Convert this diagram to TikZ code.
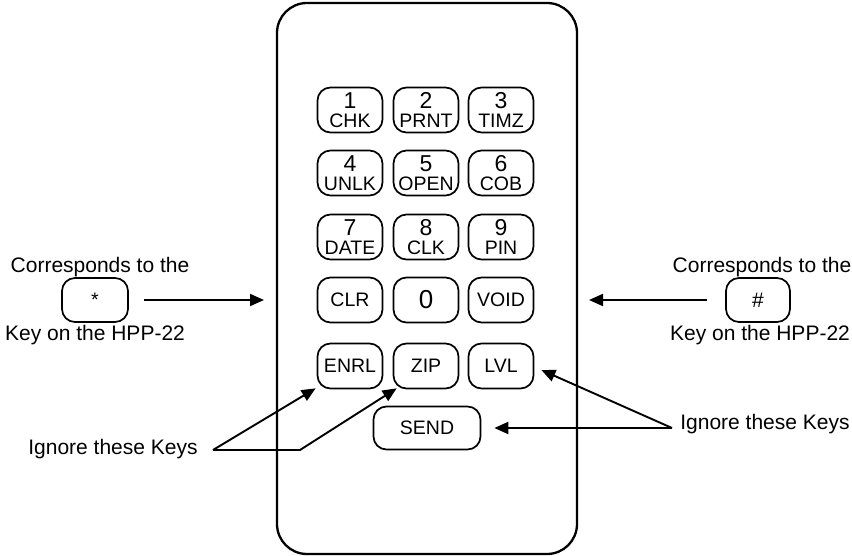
\documentclass[tikz,border=0pt]{standalone}
\usepackage{fontspec}
\setmainfont{Liberation Sans}
\usetikzlibrary{arrows.meta}
\newcommand\keylab[2]{{\fontsize{23}{19.5}\selectfont #1}\\#2}
\begin{document}
\begin{tikzpicture}[x=1pt,y=-1pt,
 keybox/.style={draw, line width=1.7pt, rounded corners=13pt, minimum width=65pt, minimum height=45pt, inner sep=0pt, align=center, font=\fontsize{19.5}{19.5}\selectfont},
 side/.style={font=\fontsize{21}{24}\selectfont, inner sep=0pt, anchor=base},
 arr/.style={line width=1.9pt, -{Triangle[length=14pt,width=12pt]}},
 phonebox/.style={draw, line width=2.3pt, rounded corners=30pt, minimum width=300pt, minimum height=551pt, inner sep=0pt},
]
\useasboundingbox (0,0) rectangle (852,556);
\node[phonebox] (phone) at (427,278.5) {};
% keypad
\node[keybox] (k1) at (350,110) {\keylab{1}{CHK}};
\node[keybox] (k2) at (426,110) {\keylab{2}{PRNT}};
\node[keybox] (k3) at (501,110) {\keylab{3}{TIMZ}};
\node[keybox] (k4) at (350,173) {\keylab{4}{UNLK}};
\node[keybox] (k5) at (426,173) {\keylab{5}{OPEN}};
\node[keybox] (k6) at (501,173) {\keylab{6}{COB}};
\node[keybox] (k7) at (350,237) {\keylab{7}{DATE}};
\node[keybox] (k8) at (426,237) {\keylab{8}{CLK}};
\node[keybox] (k9) at (501,237) {\keylab{9}{PIN}};
\node[keybox] (clr) at (350,300) {CLR};
\node[keybox, font=\fontsize{26}{26}\selectfont] (k0) at (426,300) {0};
\node[keybox] (void) at (501,300) {VOID};
\node[keybox] (enrl) at (350,366) {ENRL};
\node[keybox] (zip) at (426,366) {ZIP};
\node[keybox] (lvl) at (501,366) {LVL};
\node[keybox, minimum width=107pt, minimum height=43pt] (send) at (427,428) {SEND};
% left side
\node[side] (lc) at (100,273) {Corresponds to the};
\node[keybox, minimum width=66pt, minimum height=44pt] (star) at (95,300) {\raisebox{-4pt}{*}};
\node[side] (lk) at (95,340) {Key on the HPP-22};
\coordinate (ltip) at (264,300);
\draw[arr] ([xshift=15pt]star.east) -- (ltip);
% right side
\node[side] (rc) at (762,273) {Corresponds to the};
\node[keybox, minimum width=64pt, minimum height=44pt, font=\fontsize{21}{21}\selectfont] (hash) at (758,300) {\#};
\node[side] (rk) at (760,340) {Key on the HPP-22};
\coordinate (rtip) at (589,300);
\draw[arr] ([xshift=-18pt]hash.west) -- (rtip);
% ignore keys left
\node[side] (ign1) at (113,454) {Ignore these Keys};
\coordinate (lfork) at (213,450);
\coordinate (lbend) at (300,450);
\draw[arr] (lfork) -- ([xshift=-1pt,yshift=1pt]enrl.south west);
\draw[arr] (lfork) -- (lbend) -- ([xshift=4pt,yshift=1pt]zip.south west);
% ignore keys right
\node[side] (ign2) at (765,429) {Ignore these Keys};
\coordinate (rfork) at (672,428);
\draw[arr] (rfork) -- ([xshift=7pt,yshift=-4pt]lvl.east);
\draw[arr] (rfork) -- ([xshift=13pt]send.east);
\end{tikzpicture}
\end{document}
